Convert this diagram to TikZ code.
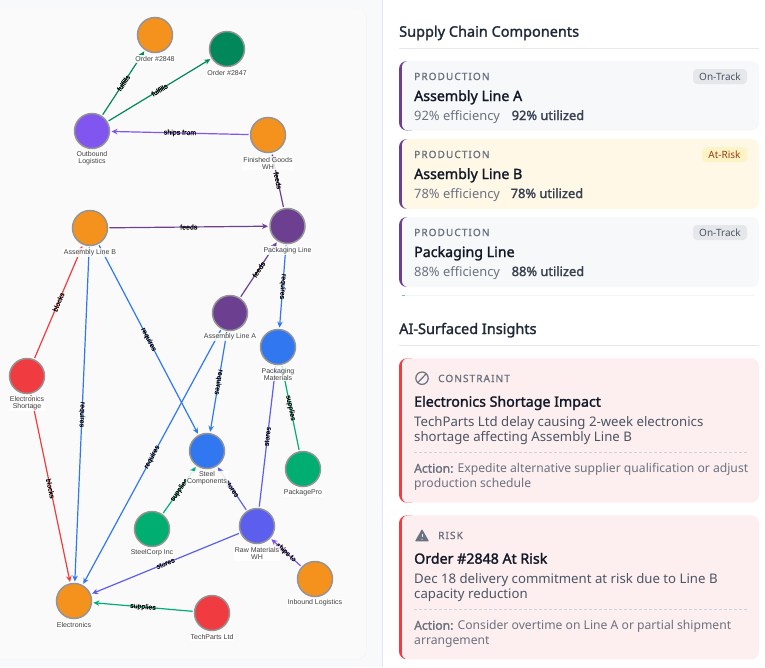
\documentclass[tikz,border=0pt]{standalone}
\usepackage{fontspec}
\setmainfont{Noto Sans}
\newfontfamily\graphfont{Liberation Sans}
\newfontfamily\graphdark[FakeBold=.12]{Liberation Sans}
\newfontfamily\capsfont[LetterSpace=11,FakeBold=1.3]{Noto Sans}
\newfontfamily\semib[FakeBold=1.6]{Noto Sans}
\usetikzlibrary{arrows.meta}
\definecolor{pagebg}{HTML}{F8F9FB}
\definecolor{cardbg}{HTML}{FAFAFA}
\definecolor{ruleC}{HTML}{E5E7EB}
\definecolor{panelL}{HTML}{E3E6EE}
\definecolor{cOrange}{HTML}{F5921E}
\definecolor{cDeep}{HTML}{00875A}
\definecolor{cViolet}{HTML}{8055F0}
\definecolor{cPlum}{HTML}{6D3F90}
\definecolor{cBlue}{HTML}{3178F0}
\definecolor{cRed}{HTML}{F03C40}
\definecolor{cGreen}{HTML}{00AE72}
\definecolor{cIndigo}{HTML}{5C5FEE}
\definecolor{ink}{HTML}{111827}
\definecolor{head}{HTML}{1F2937}
\definecolor{muted}{HTML}{6B7280}
\definecolor{body}{HTML}{4B5563}
\definecolor{strongC}{HTML}{374151}
\definecolor{slate}{HTML}{F7F8FA}
\definecolor{cream}{HTML}{FFF8E6}
\definecolor{rose}{HTML}{FDEEEF}
\definecolor{amberBg}{HTML}{FEF3C7}
\definecolor{amberTx}{HTML}{92400E}
\definecolor{dashC}{HTML}{CDD2DA}
\newcommand{\fs}[1]{\fontsize{#1}{#1}\selectfont}
\newcommand{\infocard}[4]{%
  \begin{scope}
    \clip[rounded corners=8pt] (399,#1) rectangle (759,#2);
    \fill[#4] (399,#1) rectangle (412,#2);
    \fill[#3,rounded corners=6pt] (402,#1) rectangle (790,#2);
  \end{scope}}
\tikzset{
  x=1pt,y=-1pt,
  ent/.style={circle,minimum size=35pt,inner sep=0pt,outer sep=2pt,draw=black!42,line width=1.5pt,fill=#1},
  nlab/.style={font=\graphfont\fs{7},text=black!75,align=center,fill=white,fill opacity=.85,text opacity=1,inner sep=1pt},
  edge/.style={draw=#1,line width=1.2pt,-{Stealth[length=6pt,width=5.5pt]}},
  elab/.style={midway,sloped,font=\graphdark\fs{7},text=black,inner sep=0pt},
  elabd/.style={elab,allow upside down},
  txt/.style={anchor=base west,inner sep=0pt},
  heading/.style={txt,font=\semib\fs{14.5},text=head},
  kicker/.style={txt,font=\capsfont\fs{10},text=muted},
  ctitle/.style={txt,font=\semib\fs{14.2},text=ink},
  cbody/.style={txt,font=\fs{12.9},text=muted},
  cstrong/.style={txt,font=\semib\fs{12.85},text=strongC},
  ibody/.style={txt,font=\fs{13.2},text=body},
  iact/.style={txt,font=\fs{12.15},text=muted},
  badge/.style={anchor=base,inner sep=0pt,font=\fs{10}},
}
\begin{document}
\begin{tikzpicture}
\useasboundingbox (0,0) rectangle (765,667);
\clip (0,0) rectangle (765,667);
\fill[pagebg] (0,0) rectangle (765,667);
% graph card
\fill[black!4,rounded corners=10pt] (-20,9.5) rectangle (366.8,659.6);
\fill[cardbg,rounded corners=10pt] (-20,9) rectangle (366,659);
% right panel
\fill[white] (382,0) rectangle (765,667);
\fill[panelL] (382,0) rectangle (383,667);

% entities
\node[ent=cOrange] (o2848) at (155,35) {};
\node[ent=cDeep] (o2847) at (227,49) {};
\node[ent=cViolet] (outb) at (92,131) {};
\node[ent=cOrange] (fgwh) at (268,135) {};
\node[ent=cOrange] (lineb) at (90,228) {};
\node[ent=cPlum] (pline) at (287.5,226) {};
\node[ent=cPlum] (linea) at (230,313) {};
\node[ent=cBlue] (pmat) at (278,347) {};
\node[ent=cRed] (short) at (27,376) {};
\node[ent=cGreen] (ppro) at (303,469) {};
\node[ent=cBlue] (steel) at (207,451) {};
\node[ent=cGreen] (scorp) at (152,529) {};
\node[ent=cIndigo] (rawwh) at (257,526) {};
\node[ent=cOrange] (inb) at (315,579) {};
\node[ent=cOrange] (elec) at (74,601) {};
\node[ent=cRed] (tech) at (212,613) {};

% connectors
\draw[edge=cDeep] (outb) -- node[elab] {fulfills} (o2848);
\draw[edge=cDeep] (outb) -- node[elab] {fulfills} (o2847);
\draw[edge=cViolet] (fgwh) -- node[elab] {ships from} (outb);
\draw[edge=cPlum] (pline) -- node[elab] {feeds} (fgwh);
\draw[edge=cPlum] (lineb) -- node[elab] {feeds} (pline);
\draw[edge=cPlum] (linea) -- node[elab] {feeds} (pline);
\draw[edge=cBlue] (pline) -- node[elabd] {requires} (pmat);
\draw[edge=cRed] (short) -- node[elab] {blocks} (lineb);
\draw[edge=cRed] (short) -- node[elab] {blocks} (elec);
\draw[edge=cBlue] (lineb) -- node[elab] {requires} (steel);
\draw[edge=cBlue] (lineb) -- node[elabd] {requires} (elec);
\draw[edge=cBlue] (linea) -- node[elabd] {requires} (steel);
\draw[edge=cBlue] (linea) -- node[elab] {requires} (elec);
\draw[edge=cIndigo] (rawwh) -- node[elab] {stores} (pmat);
\draw[edge=cIndigo] (rawwh) -- node[elab] {stores} (steel);
\draw[edge=cIndigo] (rawwh) -- node[elab] {stores} (elec);
\draw[edge=cGreen] (ppro) -- node[elab] {supplies} (pmat);
\draw[edge=cGreen] (scorp) -- node[elab] {supplies} (steel);
\draw[edge=cGreen] (tech) -- node[elab] {supplies} (elec);
\draw[edge=cViolet] (inb) -- node[elab] {ships to} (rawwh);

% entity labels
\node[nlab] (l1) at (155,59) {Order \#2848};
\node[nlab] (l2) at (227,73) {Order \#2847};
\node[nlab] (l3) at (92,158.5) {Outbound\\Logistics};
\node[nlab] (l4) at (268,163) {Finished Goods\\WH};
\node[nlab] (l5) at (90,252.5) {Assembly Line B};
\node[nlab] (l6) at (287.5,250.5) {Packaging Line};
\node[nlab] (l7) at (230,337) {Assembly Line A};
\node[nlab] (l8) at (278,374) {Packaging\\Materials};
\node[nlab] (l9) at (27,403.5) {Electronics\\Shortage};
\node[nlab] (l10) at (303,493) {PackagePro};
\node[nlab] (l11) at (207,478.5) {Steel\\Components};
\node[nlab] (l12) at (152,553) {SteelCorp Inc};
\node[nlab] (l13) at (257,553.5) {Raw Materials\\WH};
\node[nlab] (l14) at (315,603) {Inbound Logistics};
\node[nlab] (l15) at (74,625) {Electronics};
\node[nlab] (l16) at (212,637) {TechParts Ltd};

% components section
\node[heading] (h1) at (399,36.7) {Supply Chain Components};
\draw[ruleC,line width=.8pt] (399,48.3) -- (759,48.3);

\infocard{61}{130.5}{slate}{cPlum}
\node[kicker] (k1) at (414,80) {PRODUCTION};
\fill[ruleC,rounded corners=4pt] (693,69) rectangle (747,84);
\node[badge,text=body] (b1) at (720,80) {On-Track};
\node[ctitle] (t1) at (414,101) {Assembly Line A};
\node[cbody] (e1) at (414,120) {92\% efficiency};
\node[cstrong] (u1) at (511.5,120) {92\% utilized};

\infocard{139}{209}{cream}{cPlum}
\node[kicker] (k2) at (414,158) {PRODUCTION};
\fill[amberBg,rounded corners=4pt] (702,147) rectangle (747,162);
\node[badge,text=amberTx] (b2) at (724.5,158) {At-Risk};
\node[ctitle] (t2) at (414,179) {Assembly Line B};
\node[cbody] (e2) at (414,198) {78\% efficiency};
\node[cstrong] (u2) at (510.5,198) {78\% utilized};

\infocard{217}{287}{slate}{cPlum}
\node[kicker] (k3) at (414,236) {PRODUCTION};
\fill[ruleC,rounded corners=4pt] (693,225) rectangle (747,240);
\node[badge,text=body] (b3) at (720,236) {On-Track};
\node[ctitle] (t3) at (414,257) {Packaging Line};
\node[cbody] (e3) at (414,276) {88\% efficiency};
\node[cstrong] (u3) at (511.5,276) {88\% utilized};

% clipped next card
\draw[black!4,line width=.6pt] (405,295.3) -- (755,295.3);
\draw[cBlue!60,line width=.8pt] (402,295.3) -- (405,295.3);

% insights section
\node[heading] (h2) at (399,334) {AI-Surfaced Insights};
\draw[ruleC,line width=.8pt] (399,345.4) -- (759,345.4);

\infocard{358.3}{502.7}{rose}{cRed}
\draw[muted,line width=1.2pt] (422,378.2) circle (6.2);
\draw[muted,line width=1.2pt] (417.8,382.6) -- (426.2,373.8);
\node[kicker] (k4) at (438,382) {CONSTRAINT};
\node[ctitle] (t4) at (414,406.7) {Electronics Shortage Impact};
\node[ibody] (d4a) at (414,426) {TechParts Ltd delay causing 2-week electronics};
\node[ibody] (d4b) at (414,441) {shortage affecting Assembly Line B};
\draw[dashC,line width=.7pt,dash pattern=on 3pt off 2pt] (414,452.7) -- (747,452.7);
\node[iact] (a4a) at (414,472.7) {{\semib Action:} Expedite alternative supplier qualification or adjust};
\node[iact] (a4b) at (414,487.7) {production schedule};

\infocard{515.3}{659.3}{rose}{cRed}
\fill[muted,rounded corners=.6pt] (415,541.3) -- (429,541.3) -- (422,529) -- cycle;
\draw[rose,line width=1pt] (422,533.5) -- (422,537);
\fill[rose] (422,539.2) circle (.6);
\node[kicker] (k5) at (438,539) {RISK};
\node[ctitle] (t5) at (414,563.7) {Order \#2848 At Risk};
\node[ibody] (d5a) at (414,583) {Dec 18 delivery commitment at risk due to Line B};
\node[ibody] (d5b) at (414,598) {capacity reduction};
\draw[dashC,line width=.7pt,dash pattern=on 3pt off 2pt] (414,609.7) -- (747,609.7);
\node[iact] (a5a) at (414,629.7) {{\semib Action:} Consider overtime on Line A or partial shipment};
\node[iact] (a5b) at (414,644.7) {arrangement};
\end{tikzpicture}
\end{document}
